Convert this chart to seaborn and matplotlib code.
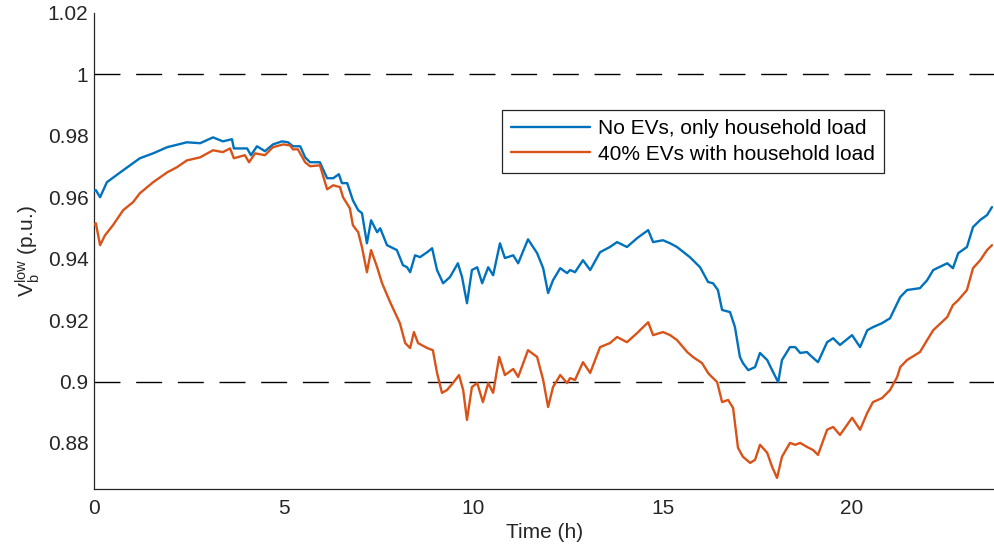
import numpy as np
import pandas as pd
import matplotlib
matplotlib.use("Agg")
import matplotlib.pyplot as plt
from matplotlib.ticker import FuncFormatter
import seaborn as sns

# Bus voltage over one day, household load only
hours_base = [0.00, 0.05, 0.16, 0.34, 0.77, 1.03, 1.21, 1.56, 1.93, 2.45, 2.80, 3.14, 3.40, 3.64,
              3.69, 4.04, 4.14, 4.30, 4.51, 4.72, 4.96, 5.12, 5.25, 5.44, 5.57, 5.70, 5.96, 6.15,
              6.31, 6.46, 6.54, 6.68, 6.83, 6.97, 7.07, 7.20, 7.31, 7.47, 7.55, 7.73, 7.99, 8.15,
              8.26, 8.34, 8.47, 8.60, 8.79, 8.92, 9.05, 9.21, 9.39, 9.60, 9.71, 9.84, 9.97, 10.11,
              10.24, 10.40, 10.53, 10.71, 10.84, 11.06, 11.19, 11.45, 11.69, 11.85, 11.98, 12.11,
              12.30, 12.48, 12.56, 12.69, 12.90, 13.09, 13.35, 13.61, 13.80, 14.06, 14.33, 14.62,
              14.75, 15.01, 15.20, 15.38, 15.72, 15.99, 16.20, 16.33, 16.46, 16.57, 16.78, 16.91,
              17.04, 17.12, 17.26, 17.44, 17.57, 17.76, 17.89, 18.05, 18.15, 18.36, 18.50, 18.63,
              18.81, 18.89, 19.10, 19.34, 19.50, 19.68, 20.00, 20.21, 20.40, 20.55, 20.79, 21.00,
              21.27, 21.45, 21.79, 21.98, 22.14, 22.51, 22.66, 22.80, 23.03, 23.19, 23.38, 23.56,
              23.69]
volt_base = [0.9620, 0.9623, 0.9600, 0.9649, 0.9688, 0.9711, 0.9727, 0.9743, 0.9763, 0.9779,
             0.9776, 0.9795, 0.9782, 0.9789, 0.9759, 0.9759, 0.9737, 0.9766, 0.9750, 0.9772,
             0.9782, 0.9779, 0.9766, 0.9766, 0.9730, 0.9714, 0.9714, 0.9662, 0.9662, 0.9675,
             0.9646, 0.9646, 0.9590, 0.9558, 0.9548, 0.9450, 0.9525, 0.9486, 0.9499, 0.9444,
             0.9428, 0.9379, 0.9372, 0.9356, 0.9411, 0.9405, 0.9421, 0.9434, 0.9363, 0.9320,
             0.9340, 0.9385, 0.9340, 0.9255, 0.9363, 0.9372, 0.9320, 0.9372, 0.9346, 0.9450,
             0.9402, 0.9411, 0.9385, 0.9463, 0.9418, 0.9369, 0.9288, 0.9330, 0.9369, 0.9353,
             0.9363, 0.9356, 0.9395, 0.9363, 0.9421, 0.9438, 0.9454, 0.9438, 0.9467, 0.9493,
             0.9454, 0.9460, 0.9450, 0.9438, 0.9405, 0.9372, 0.9324, 0.9320, 0.9298, 0.9233,
             0.9226, 0.9177, 0.9080, 0.9060, 0.9037, 0.9047, 0.9093, 0.9070, 0.9037, 0.8998,
             0.9070, 0.9112, 0.9112, 0.9093, 0.9096, 0.9086, 0.9063, 0.9128, 0.9141, 0.9119,
             0.9151, 0.9112, 0.9167, 0.9177, 0.9190, 0.9206, 0.9275, 0.9298, 0.9304, 0.9330,
             0.9363, 0.9385, 0.9369, 0.9418, 0.9438, 0.9503, 0.9526, 0.9542, 0.9568]

# Bus voltage over one day, 40% EV penetration plus household load
hours_ev = [0.00, 0.05, 0.16, 0.29, 0.50, 0.77, 1.03, 1.21, 1.56, 1.93, 2.19, 2.45, 2.80, 3.14,
            3.40, 3.59, 3.69, 3.98, 4.09, 4.25, 4.51, 4.72, 4.99, 5.17, 5.25, 5.38, 5.57, 5.70,
            5.96, 6.15, 6.31, 6.49, 6.57, 6.75, 6.83, 6.97, 7.07, 7.20, 7.31, 7.47, 7.60, 7.81,
            8.07, 8.21, 8.34, 8.44, 8.55, 8.79, 8.94, 9.05, 9.18, 9.31, 9.47, 9.63, 9.74, 9.84,
            9.97, 10.11, 10.26, 10.40, 10.53, 10.69, 10.84, 11.06, 11.19, 11.45, 11.69, 11.85,
            11.98, 12.11, 12.30, 12.48, 12.56, 12.69, 12.90, 13.09, 13.35, 13.61, 13.80, 14.06,
            14.33, 14.62, 14.75, 15.01, 15.20, 15.38, 15.65, 15.80, 16.04, 16.20, 16.25, 16.44,
            16.57, 16.73, 16.86, 16.99, 17.12, 17.31, 17.44, 17.57, 17.76, 17.89, 18.02, 18.15,
            18.36, 18.50, 18.63, 18.81, 18.97, 19.10, 19.34, 19.50, 19.68, 20.00, 20.21, 20.40,
            20.55, 20.79, 21.00, 21.19, 21.27, 21.45, 21.79, 21.98, 22.14, 22.51, 22.66, 22.80,
            23.03, 23.19, 23.38, 23.56, 23.69]
volt_ev = [0.9510, 0.9515, 0.9444, 0.9476, 0.9509, 0.9558, 0.9584, 0.9613, 0.9649, 0.9681,
           0.9698, 0.9720, 0.9730, 0.9753, 0.9747, 0.9759, 0.9727, 0.9737, 0.9714, 0.9743,
           0.9737, 0.9763, 0.9772, 0.9769, 0.9756, 0.9756, 0.9714, 0.9701, 0.9704, 0.9626,
           0.9639, 0.9633, 0.9600, 0.9564, 0.9509, 0.9486, 0.9437, 0.9356, 0.9428, 0.9372,
           0.9320, 0.9259, 0.9190, 0.9125, 0.9109, 0.9161, 0.9125, 0.9109, 0.9102, 0.9028,
           0.8963, 0.8972, 0.8995, 0.9021, 0.8972, 0.8875, 0.8982, 0.8995, 0.8933, 0.8995,
           0.8963, 0.9080, 0.9021, 0.9041, 0.9015, 0.9102, 0.9080, 0.9005, 0.8917, 0.8982,
           0.9021, 0.8995, 0.9011, 0.9005, 0.9063, 0.9028, 0.9112, 0.9125, 0.9145, 0.9128,
           0.9158, 0.9193, 0.9151, 0.9161, 0.9151, 0.9135, 0.9096, 0.9080, 0.9060, 0.9028,
           0.9021, 0.8998, 0.8933, 0.8940, 0.8914, 0.8784, 0.8755, 0.8735, 0.8745, 0.8794,
           0.8768, 0.8722, 0.8686, 0.8755, 0.8800, 0.8794, 0.8800, 0.8787, 0.8777, 0.8761,
           0.8843, 0.8852, 0.8826, 0.8882, 0.8843, 0.8898, 0.8933, 0.8946, 0.8972, 0.9015,
           0.9047, 0.9070, 0.9096, 0.9135, 0.9167, 0.9210, 0.9249, 0.9265, 0.9298, 0.9369,
           0.9395, 0.9428, 0.9444]

series_names = ["No EVs, only household load", "40% EVs with household load"]
series_colors = ["#0072BD", "#D95319"]
limit_levels = [1.0, 0.9]
x_ticks = [0, 5, 10, 15, 20]
y_ticks = [0.88, 0.90, 0.92, 0.94, 0.96, 0.98, 1.00, 1.02]

df = pd.concat([
    pd.DataFrame({"Time": hours_base, "V": volt_base, "case": series_names[0]}),
    pd.DataFrame({"Time": hours_ev, "V": volt_ev, "case": series_names[1]}),
], ignore_index=True)

sns.set_theme(style="white")
plt.rcParams["font.family"] = ["Liberation Sans", "DejaVu Sans"]
plt.rcParams["mathtext.fontset"] = "custom"
plt.rcParams["mathtext.rm"] = "Liberation Sans"
axis_color = "#262626"
fs = 15

fig = plt.figure(figsize=(9.95, 5.5), dpi=100)
ax = fig.add_axes([94 / 995, 1 - 489 / 550, 1 - 94 / 995, (489 - 13) / 550])

for lvl in limit_levels:
    ax.axhline(lvl, color="black", lw=1.0, linestyle=(0, (18.7, 11.3)), zorder=1)

sns.lineplot(data=df, x="Time", y="V", hue="case", hue_order=series_names,
             palette=series_colors, linewidth=1.7, ax=ax, sort=False,
             estimator=None, legend=False, zorder=3)

ax.set_xlim(0, 23.77)
ax.set_ylim(0.865, 1.02)
ax.set_xticks(x_ticks)
ax.set_yticks(y_ticks)
ax.yaxis.set_major_formatter(FuncFormatter(lambda v, _: f"{v:g}"))

for side in ["top", "right"]:
    ax.spines[side].set_visible(False)
for side in ["left", "bottom"]:
    ax.spines[side].set_color(axis_color)
    ax.spines[side].set_linewidth(0.9)

ax.tick_params(axis="both", direction="in", length=7, width=0.9, color=axis_color,
               labelcolor=axis_color, labelsize=fs)
ax.tick_params(axis="x", pad=7)
ax.tick_params(axis="y", pad=4)

ax.set_xlabel("Time (h)", fontsize=fs, color=axis_color)
ax.set_ylabel(r"$\mathregular{V_b^{low}}$ (p.u.)", fontsize=fs, color=axis_color)
ax.xaxis.set_label_coords(0.5, -0.072)
ax.yaxis.set_label_coords(-0.058, 0.5)

handles = [plt.Line2D([], [], color=c, lw=1.7) for c in series_colors]
leg = ax.legend(handles, series_names, loc="upper left",
                bbox_to_anchor=((502 - 94) / 901, (489 - 110) / 476),
                fontsize=fs, frameon=True, fancybox=False, shadow=False,
                framealpha=1, edgecolor=axis_color, handlelength=3.75,
                handletextpad=0.4, borderpad=0.45, labelspacing=0.3,
                borderaxespad=0)
leg.get_frame().set_linewidth(0.9)
for t in leg.get_texts():
    t.set_color("black")

fig.savefig("out.png", dpi=100)
